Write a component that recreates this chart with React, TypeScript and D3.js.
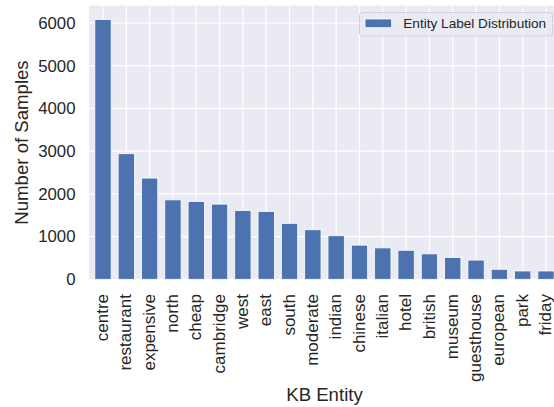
import * as d3 from 'd3';
import { useEffect, useRef } from 'react';

const entities = [
  'centre', 'restaurant', 'expensive', 'north', 'cheap', 'cambridge', 'west',
  'east', 'south', 'moderate', 'indian', 'chinese', 'italian', 'hotel',
  'british', 'museum', 'guesthouse', 'european', 'park', 'friday',
];
const counts = [
  6080, 2940, 2370, 1860, 1820, 1760, 1610, 1590, 1310, 1160, 1020, 800, 735,
  680, 595, 510, 450, 235, 195, 195,
];
const yTicks = [0, 1000, 2000, 3000, 4000, 5000, 6000];

const width = 554;
const height = 407;
const plot = { left: 89, right: 560, top: 5.7, bottom: 279.3 };
const font = '"Liberation Sans", Arial, sans-serif';
const textColor = '#262626';

export default function App() {
  const svgRef = useRef<SVGSVGElement>(null);

  useEffect(() => {
    const svg = d3.select(svgRef.current);
    svg.selectAll('*').remove();

    const x = d3.scaleLinear().domain([-0.6, entities.length - 0.4]).range([plot.left, plot.right]);
    const y = d3.scaleLinear().domain([0, 6405]).range([plot.bottom, plot.top]);
    const barW = x(0.35) - x(-0.35);

    // axes background
    svg
      .append('rect')
      .attr('x', plot.left)
      .attr('y', plot.top)
      .attr('width', plot.right - plot.left)
      .attr('height', plot.bottom - plot.top)
      .attr('fill', '#EAEAF2');

    const grid = svg.append('g').attr('stroke', '#fff').attr('stroke-width', 1.2);
    grid
      .selectAll('line.h')
      .data(yTicks)
      .join('line')
      .attr('class', 'h')
      .attr('x1', plot.left)
      .attr('x2', plot.right)
      .attr('y1', (d) => y(d))
      .attr('y2', (d) => y(d));
    grid
      .selectAll('line.v')
      .data(entities.map((_, i) => i))
      .join('line')
      .attr('class', 'v')
      .attr('x1', (d) => x(d))
      .attr('x2', (d) => x(d))
      .attr('y1', plot.top)
      .attr('y2', plot.bottom);

    svg
      .append('g')
      .selectAll('rect')
      .data(counts)
      .join('rect')
      .attr('x', (_, i) => x(i) - barW / 2)
      .attr('y', (d) => y(d))
      .attr('width', barW)
      .attr('height', (d) => y(0) - y(d))
      .attr('fill', '#4C72B0')
      .attr('stroke', '#fff')
      .attr('stroke-width', 0.8);

    // y ticks
    svg
      .append('g')
      .selectAll('text')
      .data(yTicks)
      .join('text')
      .attr('x', 75.5)
      .attr('y', (d) => y(d))
      .attr('dy', '0.35em')
      .attr('text-anchor', 'end')
      .attr('font-size', 16.8)
      .attr('font-family', font)
      .attr('fill', textColor)
      .text((d) => d);

    // x ticks
    svg
      .append('g')
      .selectAll('text')
      .data(entities)
      .join('text')
      .attr('transform', (_, i) => `translate(${x(i)},294) rotate(-90)`)
      .attr('dy', '0.3em')
      .attr('text-anchor', 'end')
      .attr('font-size', 17)
      .attr('font-family', font)
      .attr('fill', textColor)
      .text((d) => d);

    svg
      .append('text')
      .attr('transform', `translate(28,${(plot.top + plot.bottom) / 2}) rotate(-90)`)
      .attr('text-anchor', 'middle')
      .attr('font-size', 18.6)
      .attr('font-family', font)
      .attr('fill', textColor)
      .text('Number of Samples');

    svg
      .append('text')
      .attr('x', (plot.left + plot.right) / 2)
      .attr('y', 401)
      .attr('text-anchor', 'middle')
      .attr('font-size', 18.6)
      .attr('font-family', font)
      .attr('fill', textColor)
      .text('KB Entity');

    // legend
    const legend = svg.append('g');
    legend
      .append('rect')
      .attr('x', 359.5)
      .attr('y', 12.5)
      .attr('width', 193)
      .attr('height', 23.5)
      .attr('rx', 3)
      .attr('fill', '#EAEAF2')
      .attr('fill-opacity', 0.8)
      .attr('stroke', '#d0d0d8')
      .attr('stroke-width', 1);
    legend
      .append('rect')
      .attr('x', 365)
      .attr('y', 19)
      .attr('width', 26.7)
      .attr('height', 8.7)
      .attr('fill', '#4C72B0')
      .attr('stroke', '#fff')
      .attr('stroke-width', 0.8);
    legend
      .append('text')
      .attr('x', 403.3)
      .attr('y', 23.5)
      .attr('dy', '0.35em')
      .attr('font-size', 13.6)
      .attr('font-family', font)
      .attr('fill', textColor)
      .text('Entity Label Distribution');
  }, []);

  return (
    <svg
      ref={svgRef}
      width={width}
      height={height}
      style={{ position: 'absolute', left: 0, top: 0, background: '#fff' }}
    />
  );
}
